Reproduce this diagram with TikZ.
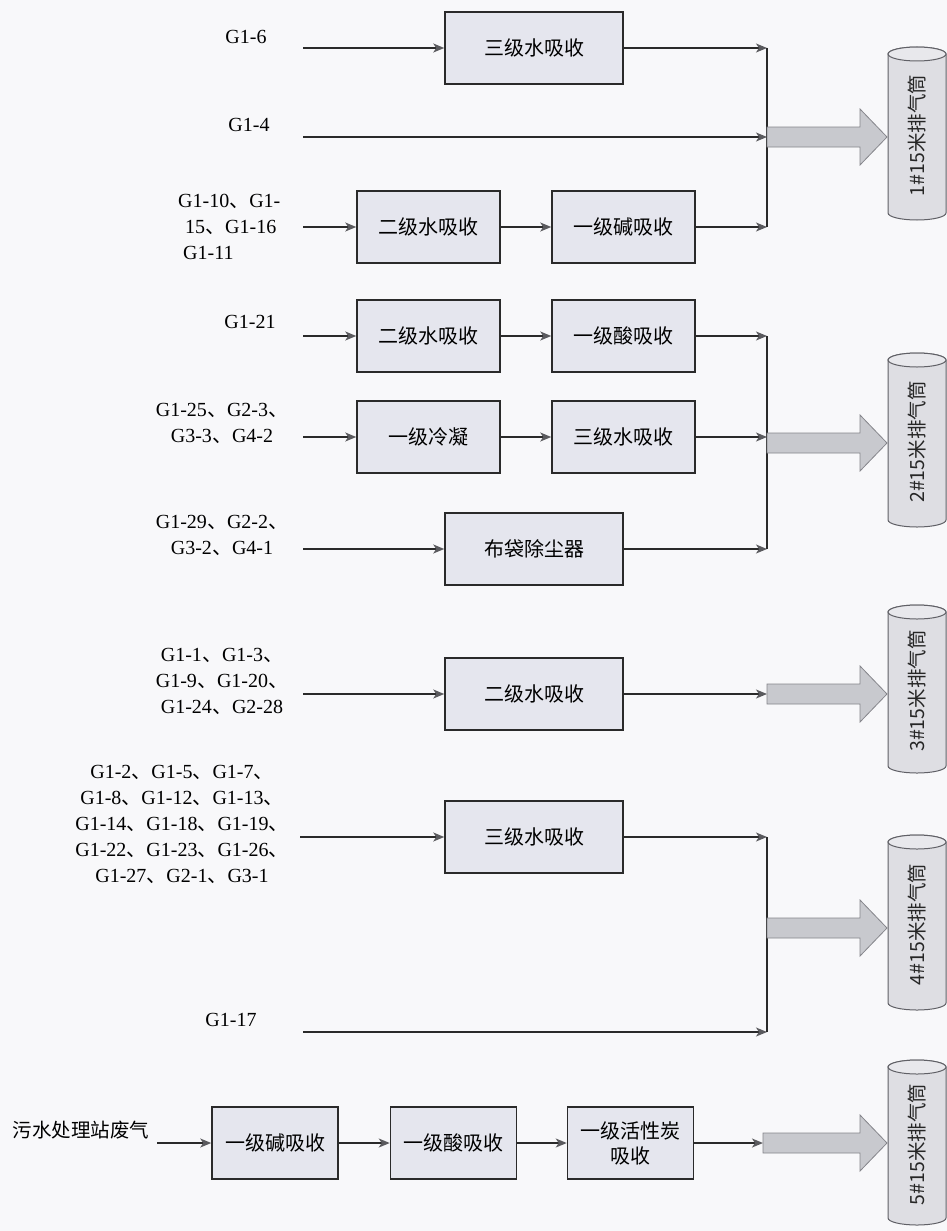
\documentclass[tikz,border=0pt]{standalone}
\usepackage{fontspec}
\setmainfont{Liberation Serif}
\newfontfamily\cjk{Noto Sans CJK SC}
\usetikzlibrary{arrows.meta,calc}
\definecolor{bg}{HTML}{F8F8FA}
\definecolor{boxfill}{HTML}{E5E6EE}
\definecolor{linecol}{HTML}{2A2A2A}
\definecolor{tipcol}{HTML}{5A5A5E}
\definecolor{fatfill}{HTML}{C8C9CE}
\definecolor{fatdraw}{HTML}{85858B}
\definecolor{cylfill}{HTML}{DEDEE3}
\definecolor{cyltop}{HTML}{E8E8EC}
\definecolor{cyldraw}{HTML}{606066}
\newcommand\dun{{\cjk 、}}
\newcommand\chimney[4]{%
  \path[draw=cyldraw, line width=1pt, fill=cylfill] (888,#2+7) -- (888,#3-7)
    arc[start angle=180, end angle=360, x radius=29pt, y radius=7pt] -- (946,#2+7)
    arc[start angle=0, end angle=180, x radius=29pt, y radius=7pt] -- cycle;
  \draw[draw=cyldraw, line width=1pt, fill=cyltop] (917,#2+7) ellipse [x radius=29pt, y radius=7pt];
  \node[stacktext] (#1) at (917,{(#2+#3)/2+2}) {#4};
}
\newcommand\fatarrow[2]{% start coordinate, body length
  \draw[fat] (#1) ++(0,-10) -- ++(#2,0) -- ++(0,-18) -- ++(27,28) -- ++(-27,28) -- ++(0,-18) -- ++(-#2,0) -- cycle;
}
\begin{document}
\begin{tikzpicture}[x=1pt,y=-1pt,
  proc/.style={draw=linecol, line width=1.5pt, fill=boxfill, minimum height=72pt, inner sep=0pt,
    font=\cjk\fontsize{20}{25}\selectfont, align=center},
  wide/.style={proc, minimum width=178pt},
  narrow/.style={proc, minimum width=143pt},
  small/.style={proc, minimum width=126pt},
  lbl/.style={font=\fontsize{20}{26}\selectfont, align=center, inner sep=0pt},
  cjklbl/.style={font=\cjk\fontsize{19.5}{24}\selectfont, inner sep=0pt},
  stacktext/.style={rotate=90, font=\cjk\fontsize{19.5}{22}\selectfont, inner sep=0pt, text=black!85},
  flow/.style={draw=linecol, line width=1.4pt, -{Stealth[length=11pt, width=9pt, inset=3pt, color=tipcol]}},
  plain/.style={draw=linecol, line width=1.4pt},
  fat/.style={draw=fatdraw, line width=0.8pt, fill=fatfill},
]
\path[fill=bg] (0,0) rectangle (947,1231);
\useasboundingbox (0,0) rectangle (947,1231);

% ---------------- section 1 ----------------
\node[lbl] (l11) at (246,37) {G1-6};
\node[lbl] (l12) at (249,125) {G1-4};
\node[lbl, align=left, anchor=west] (l13) at (178,227) {G1-10\dun G1-\\\hspace*{7pt}15\dun G1-16\\\hspace*{5pt}G1-11};
\coordinate (s11) at (303,48);
\coordinate (s12) at (303,137);
\coordinate (s13) at (303,227);
\node[wide] (b11) at (534,48) {三级水吸收};
\node[narrow] (b13a) at (428.5,227) {二级水吸收};
\node[narrow] (b13b) at (623.5,227) {一级碱吸收};
\coordinate (j11) at (767,48);
\coordinate (j12) at (767,137);
\coordinate (j13) at (767,227);
\draw[flow] (s11) -- (b11);
\draw[flow] (b11) -- (j11);
\draw[flow] (s12) -- (j12);
\draw[flow] (s13) -- (b13a);
\draw[flow] (b13a) -- (b13b);
\draw[flow] (b13b) -- (j13);
\draw[plain] (j11) -- (j13);
\chimney{c1}{47}{220}{1\#15米排气筒}
\fatarrow{j12}{93}

% ---------------- section 2 ----------------
\node[lbl] (l21) at (250,322) {G1-21};
\node[lbl] (l22) at (222,423.5) {G1-25\dun G2-3\dun\\G3-3\dun G4-2};
\node[lbl] (l23) at (222,535) {G1-29\dun G2-2\dun\\G3-2\dun G4-1};
\coordinate (s21) at (303,336);
\coordinate (s22) at (303,437);
\coordinate (s23) at (303,549);
\node[narrow] (b21a) at (428.5,336) {二级水吸收};
\node[narrow] (b21b) at (623.5,336) {一级酸吸收};
\node[narrow] (b22a) at (428.5,437) {一级冷凝};
\node[narrow] (b22b) at (623.5,437) {三级水吸收};
\node[wide] (b23) at (534,549) {布袋除尘器};
\coordinate (j21) at (767,336);
\coordinate (j22) at (767,437);
\coordinate (j23) at (767,549);
\coordinate (m2) at (767,443);
\draw[flow] (s21) -- (b21a);
\draw[flow] (b21a) -- (b21b);
\draw[flow] (b21b) -- (j21);
\draw[flow] (s22) -- (b22a);
\draw[flow] (b22a) -- (b22b);
\draw[flow] (b22b) -- (j22);
\draw[flow] (s23) -- (b23);
\draw[flow] (b23) -- (j23);
\draw[plain] (j21) -- (j23);
\chimney{c2}{353}{527}{2\#15米排气筒}
\fatarrow{m2}{93}

% ---------------- section 3 ----------------
\node[lbl] (l31) at (222,681) {G1-1\dun G1-3\dun\\G1-9\dun G1-20\dun\\G1-24\dun G2-28};
\coordinate (s31) at (303,694);
\node[wide] (b31) at (534,694) {二级水吸收};
\coordinate (j31) at (767,694);
\draw[flow] (s31) -- (b31);
\draw[flow] (b31) -- (j31);
\chimney{c3}{605}{773}{3\#15米排气筒}
\fatarrow{j31}{93}

% ---------------- section 4 ----------------
\node[lbl] (l41) at (182,824) {G1-2\dun G1-5\dun G1-7\dun\\G1-8\dun G1-12\dun G1-13\dun\\G1-14\dun G1-18\dun G1-19\dun\\G1-22\dun G1-23\dun G1-26\dun\\G1-27\dun G2-1\dun G3-1};
\node[lbl] (l42) at (231,1020) {G1-17};
\coordinate (s41) at (300,837);
\coordinate (s42) at (303,1032);
\node[wide] (b41) at (534,837) {三级水吸收};
\coordinate (j41) at (767,837);
\coordinate (j42) at (767,1032);
\coordinate (m4) at (767,928);
\draw[flow] (s41) -- (b41);
\draw[flow] (b41) -- (j41);
\draw[flow] (s42) -- (j42);
\draw[plain] (j41) -- (j42);
\chimney{c4}{835}{1010}{4\#15米排气筒}
\fatarrow{m4}{93}

% ---------------- section 5 ----------------
\node[cjklbl] (l51) at (81,1130) {污水处理站废气};
\coordinate (s51) at (157,1143);
\node[small] (b51a) at (275,1143) {一级碱吸收};
\node[small] (b51b) at (453.5,1143) {一级酸吸收};
\node[small] (b51c) at (630.5,1143) {一级活性炭\\吸收};
\coordinate (j51) at (763,1143);
\draw[flow] (s51) -- (b51a);
\draw[flow] (b51a) -- (b51b);
\draw[flow] (b51b) -- (b51c);
\draw[flow] (b51c) -- (j51);
\chimney{c5}{1060}{1225}{5\#15米排气筒}
\fatarrow{j51}{97}
\end{tikzpicture}
\end{document}
